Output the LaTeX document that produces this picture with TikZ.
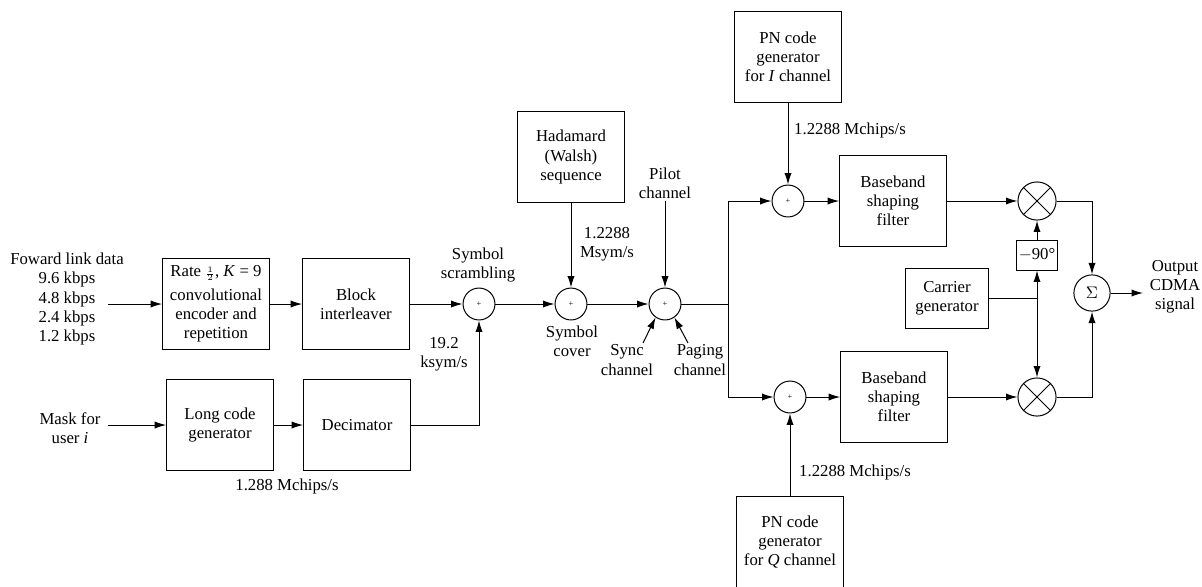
\documentclass[tikz,border=0pt]{standalone}
\usepackage{fontspec}
\setmainfont{Liberation Serif}
\usetikzlibrary{arrows.meta}

\tikzset{
  blk/.style={draw, semithick, minimum width=2.24cm, minimum height=1.92cm, align=center, inner sep=1pt},
  adder/.style={draw, semithick, circle, minimum size=0.67cm, inner sep=0pt, font=\tiny},
  mixer/.style={draw, semithick, circle, minimum size=0.8cm, inner sep=0pt},
  lbl/.style={align=center, inner sep=1pt},
  sig/.style={semithick, -{Latex[length=2.4mm,width=1.5mm]}},
  wire/.style={semithick}
}

\begin{document}
\begin{tikzpicture}[x=0.021cm, y=-0.021cm, font=\fontsize{10}{11.5}\selectfont]
    \useasboundingbox (0,0) rectangle (1202,586);

    \node[lbl] (fwd) at (67,299) {Foward link data\\9.6 kbps\\4.8 kbps\\2.4 kbps\\1.2 kbps};
    \node[lbl] (mask) at (70,428) {Mask for\\user \textit{i}};
    \coordinate (fwdin) at (108,304);
    \coordinate (maskin) at (108,425);

    \node[blk] (rate) at (216,304) {Rate $\scriptstyle\frac{1}{2}$, \textit{K} = 9\\[2.5pt]convolutional\\encoder and\\repetition};
    \node[blk] (inter) at (356,304) {Block\\interleaver};
    \node[blk] (longc) at (220,425) {Long code\\generator};
    \node[blk] (decim) at (357,425) {Decimator};
    \node[lbl] at (287,486) {1.288 Mchips/s};

    \node[adder] (scr) at (479,304) {+};
    \node[lbl] at (478,265) {Symbol\\scrambling};
    \node[lbl] at (444,354) {19.2\\ksym/s};

    \node[blk] (hada) at (571,157) {Hadamard\\(Walsh)\\sequence};
    \node[adder] (cover) at (571,304) {+};
    \node[lbl] at (607,244) {1.2288\\Msym/s};
    \node[lbl] at (572,341) {Symbol\\cover};

    \node[lbl] (pilotlbl) at (665,183) {Pilot\\channel};
    \node[adder] (pilot) at (665,304) {+};
    \node[lbl] at (627,360) {Sync\\channel};
    \node[lbl] at (700,360) {Paging\\channel};
    \coordinate (syncin) at (643,343);
    \coordinate (pagein) at (688,343);
    \coordinate (split) at (728,304);

    \node[blk] (pni) at (788,57) {PN code\\generator\\for \textit{I} channel};
    \node[lbl] at (850,130) {1.2288 Mchips/s};
    \node[adder] (addi) at (788,201) {+};
    \node[blk] (bbi) at (893,201) {Baseband\\shaping\\filter};

    \node[adder] (addq) at (790,397) {+};
    \node[blk] (bbq) at (894,397) {Baseband\\shaping\\filter};
    \node[lbl] at (855,472) {1.2288 Mchips/s};
    \node[blk] (pnq) at (790,542) {PN code\\generator\\for \textit{Q} channel};

    \node[mixer] (mixi) at (1037,201) {};
    \node[mixer] (mixq) at (1037,397) {};
    \draw[semithick] (mixi.45) -- (mixi.225) (mixi.135) -- (mixi.315);
    \draw[semithick] (mixq.45) -- (mixq.225) (mixq.135) -- (mixq.315);
    \node[draw, semithick, minimum width=0.88cm, minimum height=0.63cm, inner sep=1pt] (ph) at (1037,255) {$-$90°};
    \node[draw, semithick, minimum width=1.74cm, minimum height=1.26cm, align=center] (carr) at (947,298.4) {Carrier\\generator};
    \coordinate (cj) at (1037,298);

    \node[mixer, minimum size=0.76cm] (sum) at (1092,293) {$\Sigma$};
    \coordinate (outp) at (1143,293);
    \node[lbl] at (1175,287) {Output\\CDMA\\signal};

    \draw[sig] (fwdin) -- (rate);
    \draw[sig] (rate) -- (inter);
    \draw[sig] (inter) -- (scr);
    \draw[sig] (maskin) -- (longc);
    \draw[sig] (longc) -- (decim);
    \draw[sig] (decim) -| (scr);
    \draw[sig] (scr) -- (cover);
    \draw[sig] (hada) -- (cover);
    \draw[sig] (cover) -- (pilot);
    \draw[sig] (pilotlbl) -- (pilot);
    \draw[sig] (syncin) -- (pilot.235);
    \draw[sig] (pagein) -- (pilot.305);
    \draw[wire] (pilot) -- (split);
    \draw[sig] (split) |- (addi);
    \draw[sig] (split) |- (addq);
    \draw[sig] (pni) -- (addi);
    \draw[sig] (pnq) -- (addq);
    \draw[sig] (addi) -- (bbi);
    \draw[sig] (addq) -- (bbq);
    \draw[sig] (bbi) -- (mixi);
    \draw[sig] (bbq) -- (mixq);
    \draw[wire] (carr.east |- cj) -- (cj);
    \draw[sig] (cj) -- (ph);
    \draw[sig] (cj) -- (mixq);
    \draw[sig] (ph) -- (mixi);
    \draw[sig] (mixi) -| (sum);
    \draw[sig] (mixq) -| (sum);
    \draw[sig] (sum) -- (outp);
\end{tikzpicture}
\end{document}
